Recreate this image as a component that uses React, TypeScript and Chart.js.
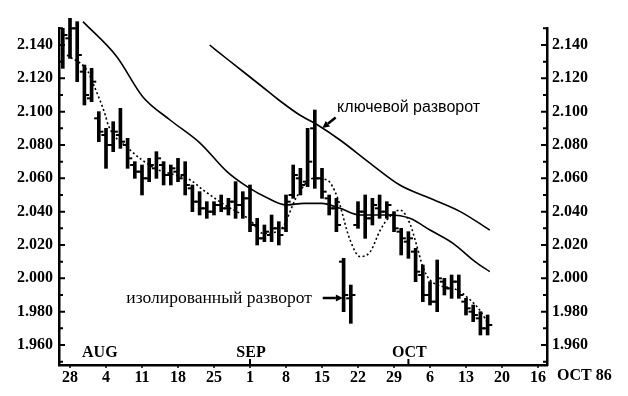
import React, { useEffect, useRef } from "react";
import { Chart, registerables } from "chart.js";

Chart.register(...registerables);

// ---- data (trading-day index: 0 = Mon 28 Jul 1986) ----
const firstDay = -1;
const highs = [
  2.150, 2.156, 2.154, 2.128, 2.126, 2.100, 2.090, 2.094, 2.102, 2.084,
  2.070, 2.068, 2.072, 2.076, 2.070, 2.068, 2.072, 2.070, 2.056, 2.052,
  2.046, 2.046, 2.050, 2.048, 2.058, 2.052, 2.056, 2.036, 2.032, 2.038,
  2.034, 2.050, 2.068, 2.066, 2.090, 2.101, 2.066, 2.050, 2.048, 2.012,
  1.996, 2.046, 2.050, 2.048, 2.050, 2.046, 2.040, 2.030, 2.028, 2.018,
  2.008, 1.998, 2.011, 2.000, 2.002, 2.002, 1.988, 1.984, 1.980, 1.978,
];
const lows = [
  2.126, 2.132, 2.118, 2.104, 2.106, 2.082, 2.066, 2.076, 2.078, 2.066,
  2.060, 2.050, 2.058, 2.060, 2.056, 2.056, 2.058, 2.050, 2.040, 2.038,
  2.036, 2.038, 2.040, 2.038, 2.036, 2.036, 2.028, 2.020, 2.022, 2.022,
  2.020, 2.028, 2.048, 2.050, 2.055, 2.054, 2.048, 2.038, 2.028, 1.980,
  1.973, 2.030, 2.024, 2.032, 2.036, 2.036, 2.028, 2.014, 2.012, 1.998,
  1.986, 1.984, 1.980, 1.990, 1.988, 1.988, 1.978, 1.974, 1.966, 1.966,
];
const opens = [
  2.130, 2.144, 2.150, 2.124, 2.108, 2.096, 2.086, 2.080, 2.086, 2.080,
  2.068, 2.064, 2.060, 2.066, 2.068, 2.062, 2.064, 2.062, 2.054, 2.046,
  2.042, 2.040, 2.044, 2.042, 2.046, 2.044, 2.048, 2.032, 2.024, 2.026,
  2.030, 2.030, 2.050, 2.060, 2.058, 2.090, 2.060, 2.048, 2.042, 2.010,
  1.988, 2.032, 2.040, 2.036, 2.042, 2.040, 2.038, 2.028, 2.022, 2.016,
  2.002, 1.990, 1.986, 1.998, 1.994, 1.998, 1.986, 1.980, 1.976, 1.970,
];
const closes = [
  2.146, 2.150, 2.134, 2.110, 2.118, 2.088, 2.080, 2.088, 2.082, 2.072,
  2.064, 2.060, 2.068, 2.072, 2.062, 2.066, 2.060, 2.056, 2.046, 2.042,
  2.040, 2.044, 2.042, 2.046, 2.044, 2.048, 2.032, 2.024, 2.028, 2.030,
  2.026, 2.046, 2.062, 2.056, 2.070, 2.060, 2.052, 2.042, 2.032, 1.990,
  1.990, 2.040, 2.036, 2.044, 2.040, 2.044, 2.030, 2.024, 2.024, 2.004,
  1.990, 1.986, 2.000, 1.994, 1.998, 1.990, 1.982, 1.978, 1.970, 1.972,
];

// long moving average (solid, upper)
const longMaIdx = [19.4, 22, 26.4, 29, 31.9, 34.4, 37.5, 41.7, 45.8, 50, 54.2, 58.3];
const longMaVal = [2.140, 2.131, 2.116, 2.107, 2.098, 2.092, 2.083, 2.069, 2.056, 2.048, 2.040, 2.029];
// medium moving average (solid)
const midMaIdx = [1.8, 6.5, 10.1, 13.9, 18.1, 21.8, 24.6, 27.5, 30, 32.5, 35, 37.5, 40.3, 44.4, 47.2, 50, 53.2, 56.25, 58.3];
const midMaVal = [2.154, 2.133, 2.109, 2.095, 2.081, 2.064, 2.055, 2.048, 2.044, 2.045, 2.045, 2.042, 2.038, 2.038, 2.036, 2.029, 2.021, 2.010, 2.004];
// short moving average (dotted)
const shortMaIdx = [-0.4, 2.5, 3.1, 4.9, 5.3, 8.1, 11.8, 14.6, 16.7, 18.5, 21.5, 25, 26.8, 29.2, 31.5, 33.75, 35.7, 37.1, 38.9, 40.3, 41.7, 43.1, 44.4, 45.8, 47.2, 48.2, 49, 50, 53.75, 55.6, 56.9, 58.3];
const shortMaVal = [2.134, 2.124, 2.118, 2.098, 2.092, 2.078, 2.066, 2.062, 2.059, 2.053, 2.044, 2.035, 2.027, 2.029, 2.049, 2.060, 2.059, 2.049, 2.023, 2.013, 2.016, 2.029, 2.037, 2.041, 2.033, 2.019, 2.007, 1.999, 1.993, 1.987, 1.981, 1.971];

const weekTickIdx = [0, 5, 10, 15, 20, 25, 30, 35, 40, 45, 50, 55, 60, 65];
const weekLabels = ["28", "4", "11", "18", "25", "1", "8", "15", "22", "29", "6", "13", "20", "16"];
const yLabelValues = [1.96, 1.98, 2.0, 2.02, 2.04, 2.06, 2.08, 2.1, 2.12, 2.14];
const monthNames = ["AUG", "SEP", "OCT"];
const monthIdx = [4, 25, 47];
const endLabel = "OCT 86";

const keyText = "ключевой разворот";
const isoText = "изолированный разворот";

const SERIF_B = "bold 16px 'Liberation Serif', 'DejaVu Serif', serif";

const App: React.FC = () => {
  const ref = useRef<HTMLCanvasElement | null>(null);

  useEffect(() => {
    if (!ref.current) return;
    const bars = highs.map((h, i) => ({ x: i + firstDay, y: [lows[i], h] }));
    const openPts = opens.map((o, i) => ({ x: i + firstDay - 0.3, y: o }));
    const closePts = closes.map((c, i) => ({ x: i + firstDay + 0.3, y: c }));
    const toPts = (xs: number[], ys: number[]) => xs.map((x, i) => ({ x, y: ys[i] }));

    function drawArrow(ctx: CanvasRenderingContext2D, x1: number, y1: number, x2: number, y2: number) {
      const ang = Math.atan2(y2 - y1, x2 - x1);
      const hl = 7;
      const hw = 3.5;
      const bx = x2 - Math.cos(ang) * hl;
      const by = y2 - Math.sin(ang) * hl;
      ctx.lineWidth = 2.5;
      ctx.beginPath();
      ctx.moveTo(x1, y1);
      ctx.lineTo(bx, by);
      ctx.stroke();
      ctx.beginPath();
      ctx.moveTo(x2, y2);
      ctx.lineTo(bx + Math.sin(ang) * hw, by - Math.cos(ang) * hw);
      ctx.lineTo(bx - Math.sin(ang) * hw, by + Math.cos(ang) * hw);
      ctx.closePath();
      ctx.fill();
    }

    const decor = {
      id: "decor",
      afterDraw(chart: any) {
        const ctx = chart.ctx as CanvasRenderingContext2D;
        const xs = chart.scales.x;
        const ys = chart.scales.y;
        const a = chart.chartArea;
        ctx.save();
        ctx.strokeStyle = "#000";
        ctx.fillStyle = "#000";
        // inside ticks on both y axes
        for (let k = 195; k <= 215; k++) {
          const py = ys.getPixelForValue(k / 100);
          const major = k % 2 === 0;
          const len = major ? 6 : 4;
          ctx.lineWidth = 2;
          ctx.beginPath();
          ctx.moveTo(a.left, py);
          ctx.lineTo(a.left + len, py);
          ctx.moveTo(a.right - len, py);
          ctx.lineTo(a.right, py);
          ctx.stroke();
        }
        // week ticks below x axis
        weekTickIdx.forEach((v) => {
          const px = xs.getPixelForValue(v);
          ctx.lineWidth = 1.5;
          ctx.beginPath();
          ctx.moveTo(px, a.bottom);
          ctx.lineTo(px, a.bottom + 3);
          ctx.stroke();
        });
        // month markers and labels
        ctx.font = SERIF_B;
        ctx.textAlign = "center";
        ctx.textBaseline = "middle";
        monthNames.forEach((m, i) => {
          const px = xs.getPixelForValue(monthIdx[i]);
          if (i > 0) {
            ctx.lineWidth = 2;
            ctx.beginPath();
            ctx.moveTo(px, a.bottom);
            ctx.lineTo(px, a.bottom - 6);
            ctx.stroke();
          }
          ctx.fillText(m, px + 1, a.bottom - 12);
        });
        // end label
        ctx.textAlign = "left";
        const lastPx = xs.getPixelForValue(weekTickIdx[weekTickIdx.length - 1]);
        ctx.fillText(endLabel, lastPx + 19, a.bottom + 11);

        // key reversal annotation
        ctx.font = "16px 'Liberation Sans', Arial, sans-serif";
        ctx.textAlign = "left";
        ctx.fillText(keyText, xs.getPixelForValue(37.1), ys.getPixelForValue(2.1022));
        drawArrow(ctx, xs.getPixelForValue(36.9), ys.getPixelForValue(2.0965), xs.getPixelForValue(35.05), ys.getPixelForValue(2.0902));
        // isolated reversal annotation
        ctx.font = "17.5px 'Liberation Serif', 'DejaVu Serif', serif";
        ctx.textAlign = "right";
        ctx.fillText(isoText, xs.getPixelForValue(33.6), ys.getPixelForValue(1.9882));
        drawArrow(ctx, xs.getPixelForValue(35.1), ys.getPixelForValue(1.9882), xs.getPixelForValue(37.9), ys.getPixelForValue(1.9882));
        ctx.restore();
      },
    };

    const tickPts = {
      type: "line" as const,
      showLine: false,
      pointStyle: "line",
      pointRadius: 2.5,
      pointHoverRadius: 2.5,
      pointBorderWidth: 2,
      pointBorderColor: "#000",
      pointBackgroundColor: "#000",
      clip: false as any,
    };
    const maLine = {
      type: "line" as const,
      borderColor: "#000",
      borderWidth: 1.6,
      pointRadius: 0,
      cubicInterpolationMode: "monotone" as const,
      fill: false,
      clip: false as any,
    };

    const chart = new Chart(ref.current, {
      type: "bar",
      data: {
        datasets: [
          { type: "bar", data: bars as any, backgroundColor: "#000", borderWidth: 0, barThickness: 3, grouped: false, clip: false as any },
          { ...tickPts, data: openPts } as any,
          { ...tickPts, data: closePts } as any,
          { ...maLine, data: toPts(longMaIdx, longMaVal) } as any,
          { ...maLine, data: toPts(midMaIdx, midMaVal) } as any,
          { ...maLine, borderDash: [2, 2.5], data: toPts(shortMaIdx, shortMaVal) } as any,
        ],
      },
      options: {
        responsive: false,
        animation: false,
        devicePixelRatio: 1,
        events: [],
        layout: { padding: { top: 28, left: 0, right: 0, bottom: 0 } },
        plugins: { legend: { display: false }, tooltip: { enabled: false } },
        scales: {
          x: {
            type: "linear",
            min: -1.528,
            max: 66.25,
            offset: false,
            afterFit: (s: any) => { s.height = 31; },
            afterBuildTicks: (s: any) => { s.ticks = weekTickIdx.map((v) => ({ value: v })); },
            grid: { display: true, drawOnChartArea: false, drawTicks: false },
            border: { display: true, color: "#000", width: 2.5 },
            ticks: {
              autoSkip: false,
              maxRotation: 0,
              padding: 3,
              color: "#000",
              font: { family: "'Liberation Serif', 'DejaVu Serif', serif", size: 16, weight: "bold" },
              callback: (v: any) => {
                const i = weekTickIdx.indexOf(Math.round(Number(v)));
                return i >= 0 ? weekLabels[i] : "";
              },
            },
          },
          y: {
            type: "linear",
            position: "left",
            min: 1.948,
            max: 2.1502,
            afterFit: (s: any) => { s.width = 59; },
            afterBuildTicks: (s: any) => { s.ticks = yLabelValues.map((v) => ({ value: v })); },
            grid: { display: true, drawOnChartArea: false, drawTicks: false },
            border: { display: true, color: "#000", width: 2.5 },
            ticks: {
              padding: 6,
              color: "#000",
              font: { family: "'Liberation Serif', 'DejaVu Serif', serif", size: 16, weight: "bold" },
              callback: (v: any) => Number(v).toFixed(3),
            },
          },
          y1: {
            type: "linear",
            position: "right",
            min: 1.948,
            max: 2.1502,
            afterFit: (s: any) => { s.width = 81; },
            afterBuildTicks: (s: any) => { s.ticks = yLabelValues.map((v) => ({ value: v })); },
            grid: { display: true, drawOnChartArea: false, drawTicks: false },
            border: { display: true, color: "#000", width: 2.5 },
            ticks: {
              padding: 5,
              color: "#000",
              font: { family: "'Liberation Serif', 'DejaVu Serif', serif", size: 16, weight: "bold" },
              callback: (v: any) => Number(v).toFixed(3),
            },
          },
        },
      },
      plugins: [decor],
    });
    return () => chart.destroy();
  }, []);

  return (
    <div style={{ position: "absolute", left: 0, top: 0, width: 628, height: 396, background: "#fff" }}>
      <canvas ref={ref} width={628} height={396} />
    </div>
  );
};

export default App;
